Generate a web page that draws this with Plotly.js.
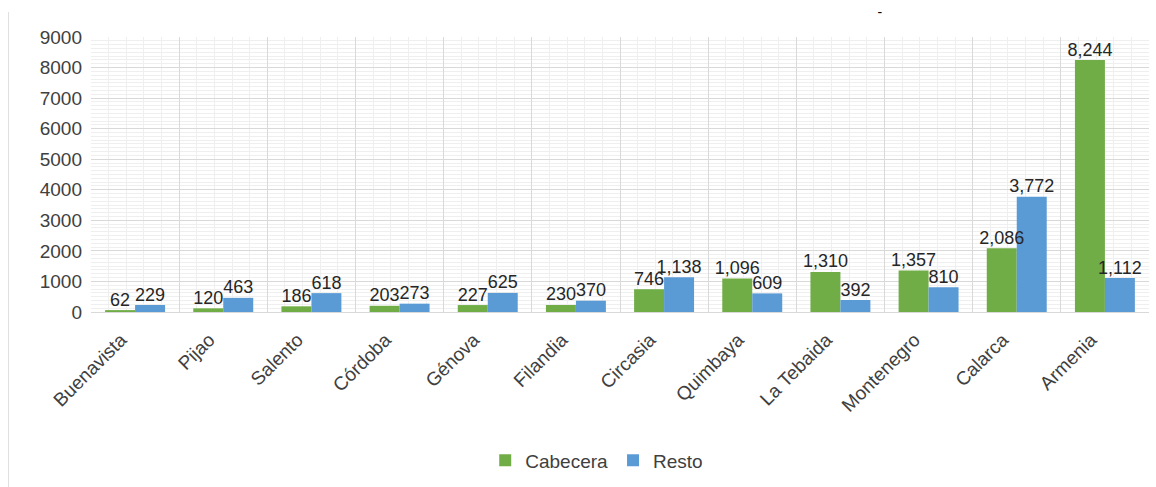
<!DOCTYPE html>
<html>
<head>
<meta charset="utf-8">
<script src="https://cdn.plot.ly/plotly-3.0.1.min.js"></script>
<style>
  html, body { margin: 0; padding: 0; background: #fff; }
  #wrap { position: relative; width: 1156px; height: 487px; }
  #frame { position: absolute; left: 8px; top: 12px; width: 0; height: 475px; border-left: 1px solid #e0e0e0; }
  #chart { position: absolute; left: 0; top: 0; width: 1156px; height: 487px; }
</style>
</head>
<body>
<div id="wrap">
  <div id="frame"></div>
  <div id="chart"></div>
</div>
<script>
const categories = ["Buenavista", "Pijao", "Salento", "Córdoba", "Génova", "Filandia",
                    "Circasia", "Quimbaya", "La Tebaida", "Montenegro", "Calarca", "Armenia"];
const cabecera = [62, 120, 186, 203, 227, 230, 746, 1096, 1310, 1357, 2086, 8244];
const resto = [229, 463, 618, 273, 625, 370, 1138, 609, 392, 810, 3772, 1112];
const seriesNames = ["Cabecera", "Resto"];
const yTicks = [0, 1000, 2000, 3000, 4000, 5000, 6000, 7000, 8000, 9000];

const FONT = "Liberation Sans, Arial, sans-serif";
const labelFont = { family: FONT, size: 18, color: "#262626" };
const BW = 0.34;
const idx = categories.map((_, i) => i);

const traces = [
  {
    type: "bar", name: seriesNames[0], x: categories, y: cabecera,
    marker: { color: "#70ad47" },
    offset: -BW, width: BW, hoverinfo: "x+y"
  },
  {
    type: "bar", name: seriesNames[1], x: categories, y: resto,
    marker: { color: "#5b9bd5" },
    offset: 0, width: BW, hoverinfo: "x+y"
  },
  // value labels drawn above all bars
  {
    type: "scatter", mode: "text", xaxis: "x2", yaxis: "y",
    x: idx.map(i => i - BW / 2), y: cabecera,
    text: cabecera, texttemplate: "%{y:,}", textposition: "top center",
    textfont: labelFont, cliponaxis: false, showlegend: false, hoverinfo: "skip"
  },
  {
    type: "scatter", mode: "text", xaxis: "x2", yaxis: "y",
    x: idx.map(i => i + BW / 2), y: resto,
    text: resto, texttemplate: "%{y:,}", textposition: "top center",
    textfont: labelFont, cliponaxis: false, showlegend: false, hoverinfo: "skip"
  }
];

const layout = {
  width: 1156, height: 487,
  margin: { l: 91, r: 7, t: 37, b: 173 },
  paper_bgcolor: "rgba(0,0,0,0)",
  plot_bgcolor: "#ffffff",
  font: { family: FONT, size: 19, color: "#404040" },
  title: {
    text: "-", font: { family: FONT, size: 14, color: "#000" },
    x: 0.761, xref: "container", xanchor: "center",
    y: 0.975, yref: "container", yanchor: "middle"
  },
  barmode: "overlay",
  xaxis: {
    type: "category",
    showgrid: false,
    tickangle: -45,
    ticks: "",
    ticklabelstandoff: 12,
    ticklabelshift: -14,
    tickfont: { family: FONT, size: 19, color: "#404040" },
    showline: false,
    zeroline: false,
    automargin: false
  },
  xaxis2: {
    overlaying: "x", anchor: "y",
    type: "linear",
    range: [-0.5, categories.length - 0.5],
    tick0: -0.5, dtick: 1,
    showticklabels: false, ticks: "",
    showgrid: true, gridcolor: "#d9d9d9", gridwidth: 1,
    minor: { dtick: 0.2, tick0: -0.5, showgrid: true, gridcolor: "#efefef", gridwidth: 1 },
    zeroline: false, showline: false, fixedrange: true
  },
  yaxis: {
    range: [0, 9000],
    tickvals: yTicks,
    ticktext: yTicks.map(String),
    showgrid: true, gridcolor: "#d9d9d9", gridwidth: 1,
    minor: { dtick: 125, tick0: 0, showgrid: true, gridcolor: "#efefef", gridwidth: 1 },
    zeroline: true, zerolinecolor: "#d9d9d9", zerolinewidth: 1,
    ticks: "",
    ticklabelstandoff: 8,
    tickfont: { family: FONT, size: 19, color: "#404040" },
    automargin: false
  },
  showlegend: true,
  legend: {
    orientation: "h",
    x: 0.478, xanchor: "center",
    y: -0.54, yanchor: "middle",
    font: { family: FONT, size: 19, color: "#404040" },
    itemsizing: "constant",
    bgcolor: "rgba(0,0,0,0)"
  }
};

Plotly.newPlot("chart", traces, layout, { displayModeBar: false, staticPlot: true });
</script>
</body>
</html>
